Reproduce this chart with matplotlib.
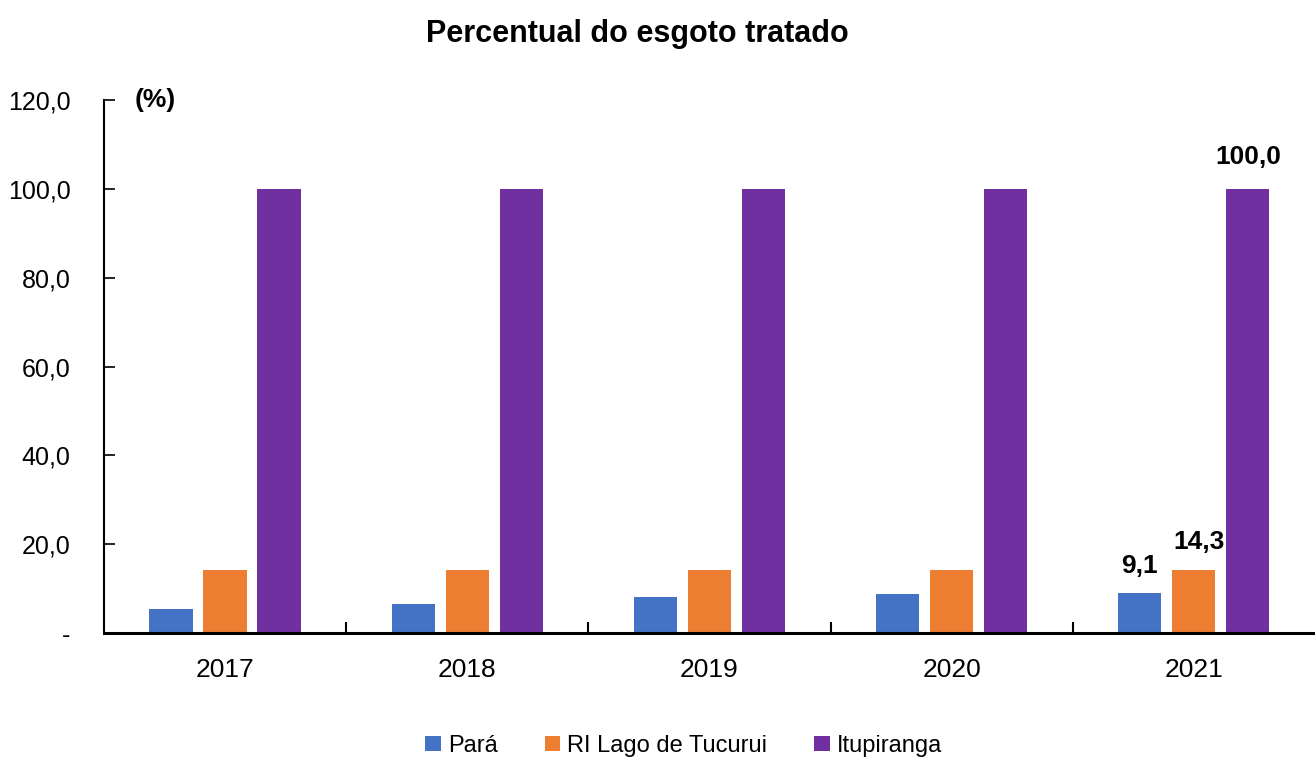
import matplotlib.pyplot as plt
import matplotlib
import numpy as np

matplotlib.rcParams['font.family'] = ['Liberation Sans', 'DejaVu Sans']

anos = ["2017", "2018", "2019", "2020", "2021"]
para = [5.4, 6.6, 8.1, 8.8, 9.1]
tucurui = [14.3, 14.3, 14.3, 14.3, 14.3]
itupiranga = [100.0, 100.0, 100.0, 100.0, 100.0]

series = [
    ("Pará", para, "#4472C4"),
    ("RI Lago de Tucurui", tucurui, "#ED7D31"),
    ("Itupiranga", itupiranga, "#7030A0"),
]

fig = plt.figure(figsize=(13.15, 7.59), dpi=100)
ax = fig.add_axes([0.079, 0.166, 0.921, 0.702])

x = np.arange(len(anos))
largura = 0.178
passo = 0.223
for i, (nome, vals, cor) in enumerate(series):
    ax.bar(x + (i - 1) * passo, vals, largura, color=cor, label=nome)

# rótulos só no último ano
ultimo = len(anos) - 1
ax.text(x[ultimo] - passo, para[ultimo] + 3.3, "9,1", ha="center", va="bottom",
        fontsize=19, fontweight="bold")
ax.text(x[ultimo] + 0.02, tucurui[ultimo] + 3.5, "14,3", ha="center", va="bottom",
        fontsize=19, fontweight="bold")
ax.text(x[ultimo] + passo, itupiranga[ultimo] + 4.6, "100,0", ha="center", va="bottom",
        fontsize=19, fontweight="bold")

ax.set_xlim(-0.5, len(anos) - 0.5)
ax.set_ylim(0, 120)
yt = np.arange(0, 121, 20)
ax.set_yticks(yt)
ax.set_yticklabels(["-"] + [f"{v:.1f}".replace(".", ",") for v in yt[1:]], fontsize=18)
ax.set_xticks(x)
ax.set_xticklabels(anos, fontsize=19)
ax.set_xticks(np.arange(0.5, len(anos) - 0.5, 1), minor=True)
ax.tick_params(axis="x", which="major", length=0, pad=18)
ax.tick_params(axis="x", which="minor", direction="in", length=8, width=1.5)
ax.tick_params(axis="y", direction="in", length=8, width=1.2, pad=24)

for s in ["top", "right"]:
    ax.spines[s].set_visible(False)
ax.spines["left"].set_linewidth(1.5)
ax.spines["bottom"].set_linewidth(2.2)

ax.text(0.025, 1.0, "(%)", transform=ax.transAxes, fontsize=19, fontweight="bold",
        va="center", ha="left")

fig.suptitle("Percentual do esgoto tratado", fontsize=22, fontweight="bold",
             x=0.485, y=0.975)

fig.legend(loc="lower center", ncol=3, frameon=False, fontsize=17,
           bbox_to_anchor=(0.52, -0.025), handlelength=0.65, handleheight=0.65,
           columnspacing=2.0, handletextpad=0.3)

fig.savefig("out.png", dpi=100)
